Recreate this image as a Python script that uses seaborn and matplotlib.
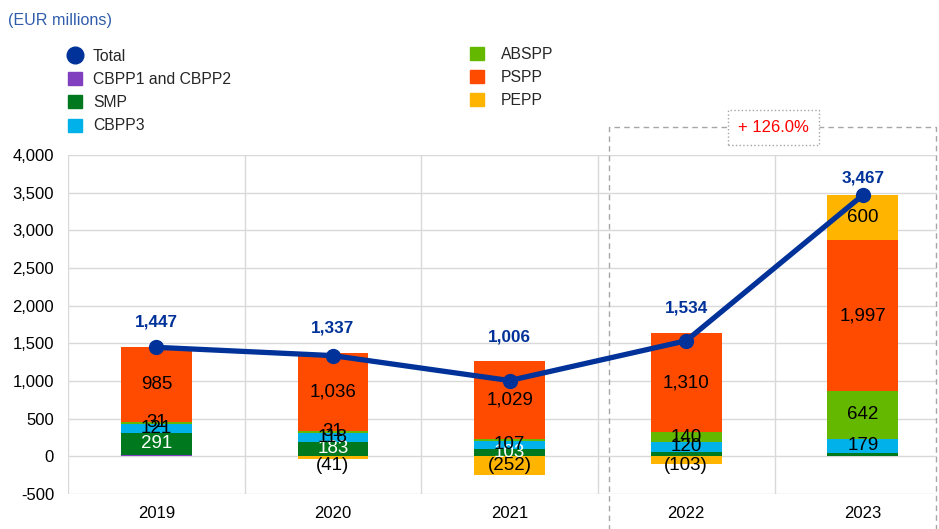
import numpy as np
import pandas as pd
import seaborn as sns
import matplotlib.pyplot as plt
from matplotlib.patches import Rectangle, Patch
from matplotlib.lines import Line2D
from matplotlib.ticker import FuncFormatter

# data (EUR millions)
years = ['2019', '2020', '2021', '2022', '2023']
cbpp12 = [19, 10, 0, 0, 0]
smp = [291, 183, 103, 64, 49]
cbpp3 = [121, 118, 107, 120, 179]
abspp = [31, 31, 20, 140, 642]
pspp = [985, 1036, 1029, 1310, 1997]
pepp = [0, -41, -252, -103, 600]
total = [1447, 1337, 1006, 1534, 3467]

series = ['CBPP1 and CBPP2', 'SMP', 'CBPP3', 'ABSPP', 'PSPP', 'PEPP']
values = [cbpp12, smp, cbpp3, abspp, pspp, pepp]
colors = ['#7f3fbf', '#00781e', '#00b1ea', '#65b800', '#ff4b00', '#ffb400']
txt_colors = ['black', 'white', 'black', 'black', 'black', 'black']
# which segments carry a value label
labelled = [
    [False] * 5,
    [True, True, True, False, False],
    [True, True, True, True, True],
    [True, True, False, True, True],
    [True, True, True, True, True],
    [False, True, True, True, True],
]

sns.set_theme(style='white')
plt.rcParams['font.family'] = ['Liberation Sans', 'DejaVu Sans']

fig = plt.figure(figsize=(9.39, 5.29), dpi=100)
ax = fig.add_axes([68 / 939, 35 / 529, 869 / 939, 339 / 529])

x = np.arange(len(years))
pos_bottom = np.zeros(len(years))
neg_bottom = np.zeros(len(years))
for name, vals, col, tcol, lab in zip(series, values, colors, txt_colors, labelled):
    vals = np.array(vals, dtype=float)
    bottom = np.where(vals >= 0, pos_bottom, neg_bottom)
    ax.bar(x, vals, width=0.4, bottom=bottom, color=col, linewidth=0, zorder=2)
    for i, v in enumerate(vals):
        if not lab[i]:
            continue
        if v < 0:
            ypos = min(bottom[i] + v / 2, -120)
            s = '({:,.0f})'.format(-v)
        else:
            ypos = bottom[i] + v / 2
            s = '{:,.0f}'.format(v)
        ax.text(i, ypos, s, ha='center', va='center', fontsize=13.5,
                color=tcol, zorder=4)
    pos_bottom += np.where(vals >= 0, vals, 0)
    neg_bottom += np.where(vals < 0, vals, 0)

df = pd.DataFrame({'x': x, 'total': total})
sns.lineplot(data=df, x='x', y='total', ax=ax, color='#003299', linewidth=3.8,
             marker='o', markersize=11, markeredgewidth=0, zorder=5)
# total labels sit above the higher of bar top and line point
for i, t in enumerate(total):
    ylab = min(max(t, pos_bottom[i]) + 330, 3700)
    ax.text(i, ylab, '{:,.0f}'.format(t), ha='center', va='center',
            fontsize=12.3, fontweight='bold', color='#003299', zorder=6)

ax.set_yticks(np.arange(-500, 4001, 500))
ax.yaxis.set_major_formatter(FuncFormatter(lambda v, p: '{:,.0f}'.format(v)))
ax.set_xticks(x)
ax.set_xticklabels(years)
ax.set_xticks(np.arange(-0.5, 5, 1), minor=True)
ax.set_xlim(-0.5, 4.42)
ax.set_ylim(-500, 4000)
ax.tick_params(axis='both', which='both', length=0, labelsize=12, colors='black')
ax.tick_params(axis='x', pad=9)
ax.tick_params(axis='y', pad=10)
ax.grid(axis='y', color='#d9d9d9', linewidth=1, zorder=0)
ax.grid(axis='x', which='minor', color='#d9d9d9', linewidth=1, zorder=0)
ax.grid(axis='x', which='major', visible=False)
ax.set_xlabel('')
ax.set_ylabel('')
for sp in ax.spines.values():
    sp.set_visible(False)

# highlight box around 2022-2023
ax.add_patch(Rectangle((2.565, -1000), 1.85, 4372 + 1000, fill=False,
                       edgecolor='#a6a6a6', linestyle=(0, (4, 3)), linewidth=1,
                       clip_on=False, zorder=1))
ax.text(3.496, 4365, '+ 126.0%', ha='center', va='center', fontsize=12,
        color='#ff0000', zorder=6,
        bbox=dict(boxstyle='square,pad=0.6', facecolor='white',
                  edgecolor='#a6a6a6', linestyle=':', linewidth=1))

fig.text(8 / 939, 1 - 21 / 529, '(EUR millions)', fontsize=11.6, color='#2f5dab',
         va='center', ha='left')

leg_kw = dict(loc='upper left', frameon=False, fontsize=11.3, handlelength=0.9,
              handleheight=0.9, labelspacing=0.52, borderaxespad=0, borderpad=0)
h1 = [Line2D([], [], color='#003299', marker='o', linestyle='', markersize=12)]
h1 += [Patch(color=c) for c in colors[:3]]
fig.legend(h1, ['Total'] + series[:3], bbox_to_anchor=(68 / 939, 1 - 49 / 529),
           handletextpad=0.7, **leg_kw)
h2 = [Patch(color=c) for c in colors[3:]]
fig.legend(h2, series[3:], bbox_to_anchor=(470 / 939, 1 - 47 / 529),
           handletextpad=1.08, **leg_kw)

fig.savefig('out.png', dpi=100)
